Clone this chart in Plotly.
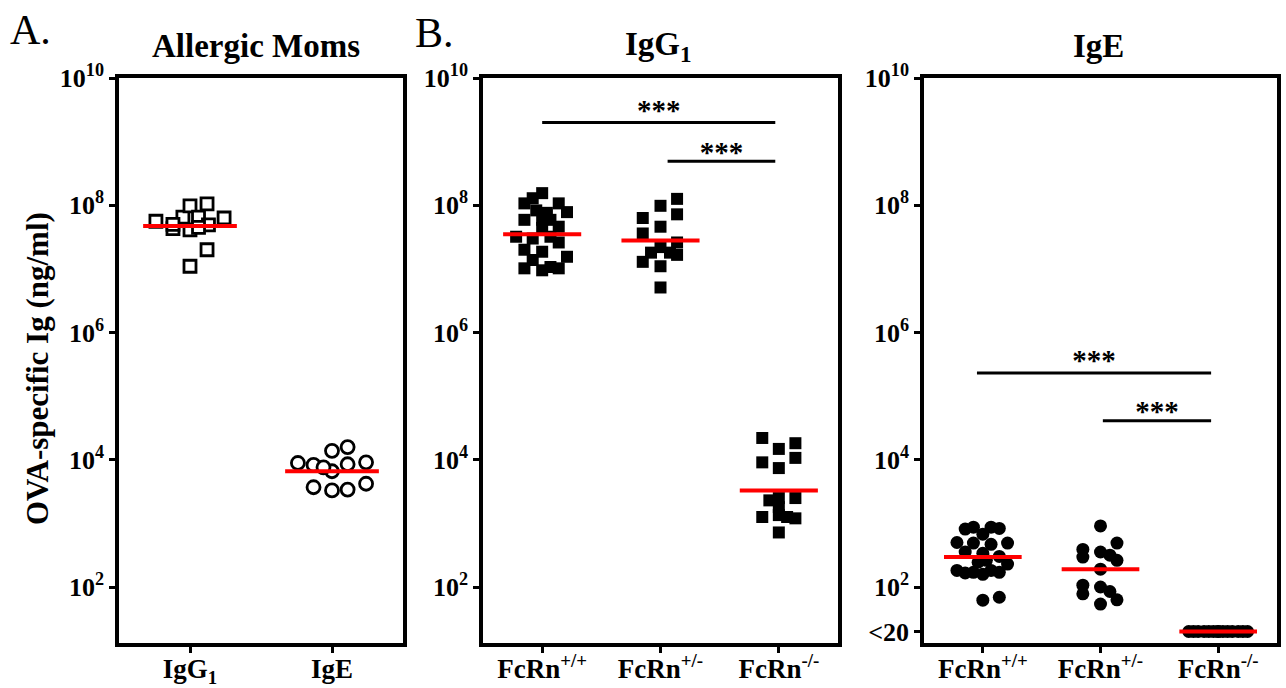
import plotly.graph_objects as go

W, H = 1286, 688
FONT = "Liberation Serif"

# ---------------- data (ng/ml) ----------------
moms_cats = ["IgG<sub>1</sub>", "IgE"]
moms_igg1 = [5.6e7, 4.3e7, 6.5e7, 9.8e7, 1.05e8, 4.1e7, 6.5e7, 4.9e7, 6.3e7, 2.0e7, 1.1e7, 5.0e7, 4.5e7]
moms_igg1_jit = [-0.24, -0.12, -0.05, 0.0, 0.12, 0.0, 0.06, 0.13, 0.24, 0.12, 0.0, -0.12, 0.06]
moms_ige = [8.9e3, 8.3e3, 1.38e4, 1.58e4, 8.5e3, 9.1e3, 3.7e3, 3.3e3, 3.4e3, 4.2e3, 6.6e3, 7.6e3]
moms_ige_jit = [-0.24, -0.13, 0.0, 0.11, 0.11, 0.24, -0.13, 0.0, 0.11, 0.24, 0.0, -0.06]
moms_means = [4.7e7, 6.6e3]

fcrn_cats = ["FcRn<sup>+/+</sup>", "FcRn<sup>+/-</sup>", "FcRn<sup>-/-</sup>"]

igg1_pp = [1.55e8, 1.29e8, 1.07e8, 1.07e8, 8.3e7, 7.8e7, 5.9e7, 5.9e7, 5.9e7, 4.4e7, 4.6e7, 3.2e7,
           3.0e7, 3.2e7, 2.6e7, 2.0e7, 1.86e7, 1.55e7, 1.38e7, 1.02e7, 9.5e6, 1.07e7, 1.02e7, 7.6e7]
igg1_pp_jit = [0, -0.08, -0.15, 0.14, -0.05, 0.21, -0.15, 0, 0.07, 0, 0.14, -0.22,
               -0.08, 0.07, 0.14, -0.15, 0, 0.21, -0.08, -0.15, 0, 0.07, 0.14, 0.04]
igg1_pm = [1.26e8, 9.8e7, 6.3e7, 7.2e7, 4.6e7, 3.6e7, 2.6e7, 2.2e7, 1.8e7, 1.8e7, 1.66e7, 1.29e7, 1.1e7, 5.1e6]
igg1_pm_jit = [0.14, 0, -0.15, 0.14, 0, -0.15, 0.14, 0, -0.08, 0.08, 0.14, -0.15, 0, 0]
igg1_mm = [2.2e4, 1.48e4, 1.82e4, 1.07e4, 9.1e3, 7.4e3, 2.3e3, 2.5e3, 2.5e3, 1.26e3, 1.35e3, 1.26e3, 1.2e3, 1.8e3, 7.2e2]
igg1_mm_jit = [-0.14, 0, 0.14, 0.14, -0.14, 0, -0.08, 0, 0.14, -0.14, 0, 0.07, 0.14, 0, 0]
igg1_means = [3.5e7, 2.8e7, 3.3e3]

ige_pp = [813, 871, 871, 832, 676, 501, 490, 468, 490, 355, 339, 302, 245, 263, 229, 182, 166, 170,
          158, 182, 170, 62, 69]
ige_pp_jit = [-0.15, -0.08, 0.07, 0.14, 0, -0.22, -0.08, 0.07, 0.21, -0.15, 0, 0.14, -0.04, 0.03, 0.21,
              -0.22, -0.15, -0.08, 0, 0.07, 0.14, 0, 0.14]
ige_pm = [912, 389, 295, 355, 316, 490, 191, 107, 78, 100, 85, 54, 263, 63]
ige_pm_jit = [0, -0.15, -0.15, 0, 0.08, 0.14, 0, -0.15, -0.15, 0, 0.08, 0, 0.14, 0.14]
ige_mm = [20] * 14
ige_mm_jit = [-0.25, -0.21, -0.17, -0.12, -0.08, -0.04, 0, 0.04, 0.08, 0.12, 0.17, 0.21, 0.25, 0]
ige_means = [295, 190, 20]

# significance bars: (x0, x1, y) and star label y
igg1_sig = [(0.0, 1.97, 2.0e9, 10 ** 9.45), (1.06, 1.97, 4.9e8, 10 ** 8.79)]
ige_sig = [(-0.05, 1.94, 2.3e5, 10 ** 5.52), (1.02, 1.94, 4.1e4, 10 ** 4.73)]

ytick_vals = [1e2, 1e4, 1e6, 1e8, 1e10]
ytick_text = ["10<sup>2</sup>", "10<sup>4</sup>", "10<sup>6</sup>", "10<sup>8</sup>", "10<sup>10</sup>"]
ytick_vals_c = [20] + ytick_vals
ytick_text_c = ["<20"] + ytick_text

# ---------------- figure ----------------
fig = go.Figure()


def px_x(p):
    return p / W


def px_y(p):
    return 1 - p / H


def points(vals, jit, cat, sym, xa, ya, open_=False):
    fig.add_trace(go.Scatter(
        x=[cat + j for j in jit], y=vals, mode="markers", xaxis=xa, yaxis=ya,
        marker=dict(symbol=sym, size=12 if sym == "square" else 13,
                    color="white" if open_ else "black",
                    line=dict(color="black", width=2.8 if open_ else 0)),
        showlegend=False, hoverinfo="y"))


def mean_lines(means, xa, ya):
    for i, m in enumerate(means):
        fig.add_trace(go.Scatter(x=[i - 0.33, i + 0.33], y=[m, m], mode="lines",
                                 xaxis=xa, yaxis=ya, line=dict(color="red", width=4),
                                 showlegend=False, hoverinfo="skip"))


def sig_bars(sigs, xa, ya):
    for x0, x1, y, ys in sigs:
        fig.add_trace(go.Scatter(x=[x0, x1], y=[y, y], mode="lines", xaxis=xa, yaxis=ya,
                                 line=dict(color="black", width=3), showlegend=False,
                                 hoverinfo="skip"))
        fig.add_trace(go.Scatter(x=[(x0 + x1) / 2], y=[ys], mode="text", text=["<b>***</b>"],
                                 textposition="middle center", xaxis=xa, yaxis=ya,
                                 textfont=dict(family=FONT, size=29, color="black"),
                                 showlegend=False, hoverinfo="skip"))


# Panel A
points(moms_igg1, moms_igg1_jit, 0, "square", "x", "y", open_=True)
points(moms_ige, moms_ige_jit, 1, "circle", "x", "y", open_=True)
mean_lines(moms_means, "x", "y")

# Panel B
points(igg1_pp, igg1_pp_jit, 0, "square", "x2", "y2")
points(igg1_pm, igg1_pm_jit, 1, "square", "x2", "y2")
points(igg1_mm, igg1_mm_jit, 2, "square", "x2", "y2")
mean_lines(igg1_means, "x2", "y2")
sig_bars(igg1_sig, "x2", "y2")

# Panel C
points(ige_pp, ige_pp_jit, 0, "circle", "x3", "y3")
points(ige_pm, ige_pm_jit, 1, "circle", "x3", "y3")
points(ige_mm, ige_mm_jit, 2, "circle", "x3", "y3")
mean_lines(ige_means, "x3", "y3")
sig_bars(ige_sig, "x3", "y3")

axis_common = dict(showline=True, linecolor="black", linewidth=3.5, mirror=True,
                   showgrid=False, zeroline=False, ticks="outside", ticklen=6, tickwidth=3,
                   tickcolor="black", automargin=False)
xfont = dict(family=FONT, size=27, color="black", weight="bold")
yfont = dict(family=FONT, size=26, color="black", weight="bold")
xextra = dict(tickfont=xfont, ticklabelstandoff=-7)

yrange = [1.12, 10]
ydom = [px_y(643), px_y(78)]

fig.update_layout(
    width=W, height=H, margin=dict(l=0, r=0, t=0, b=0, autoexpand=False),
    paper_bgcolor="white", plot_bgcolor="white",
    xaxis=dict(domain=[px_x(119), px_x(403)], range=[-0.5, 1.5], tickvals=[0, 1],
               ticktext=moms_cats, anchor="y", **xextra, **axis_common),
    yaxis=dict(domain=ydom, type="log", range=yrange, tickvals=ytick_vals, ticktext=ytick_text,
               anchor="x", tickfont=yfont, **axis_common),
    xaxis2=dict(domain=[px_x(483), px_x(838)], range=[-0.5, 2.5], tickvals=[0, 1, 2],
                ticktext=fcrn_cats, anchor="y2", **xextra, **axis_common),
    yaxis2=dict(domain=ydom, type="log", range=yrange, tickvals=ytick_vals, ticktext=ytick_text,
                anchor="x2", tickfont=yfont, **axis_common),
    xaxis3=dict(domain=[px_x(924), px_x(1277)], range=[-0.5, 2.5], tickvals=[0, 1, 2],
                ticktext=fcrn_cats, anchor="y3", **xextra, **axis_common),
    yaxis3=dict(domain=ydom, type="log", range=yrange, tickvals=ytick_vals_c, ticktext=ytick_text_c,
                anchor="x3", tickfont=yfont, **axis_common),
)

ann = []
for text, cx in [("<b>Allergic Moms</b>", 256), ("<b>IgG<sub>1</sub></b>", 658), ("<b>IgE</b>", 1098)]:
    ann.append(dict(text=text, x=px_x(cx), y=px_y(46), xref="paper", yref="paper",
                    showarrow=False, xanchor="center", yanchor="middle",
                    font=dict(family=FONT, size=33, color="black")))
for text, lx, cy in [("A.", 8, 30), ("B.", 413, 33)]:
    ann.append(dict(text=text, x=px_x(lx), y=px_y(cy), xref="paper", yref="paper",
                    showarrow=False, xanchor="left", yanchor="middle",
                    font=dict(family=FONT, size=42, color="black")))
ann.append(dict(text="<b>OVA-specific Ig (ng/ml)</b>", x=px_x(38), y=px_y(369), xref="paper",
                yref="paper", showarrow=False, textangle=-90, xanchor="center", yanchor="middle",
                font=dict(family=FONT, size=31, color="black")))
fig.update_layout(annotations=ann)

fig.write_html("out.html", config={"displayModeBar": False},
               post_script="document.body.style.margin='0px';document.body.style.overflow='hidden';")
